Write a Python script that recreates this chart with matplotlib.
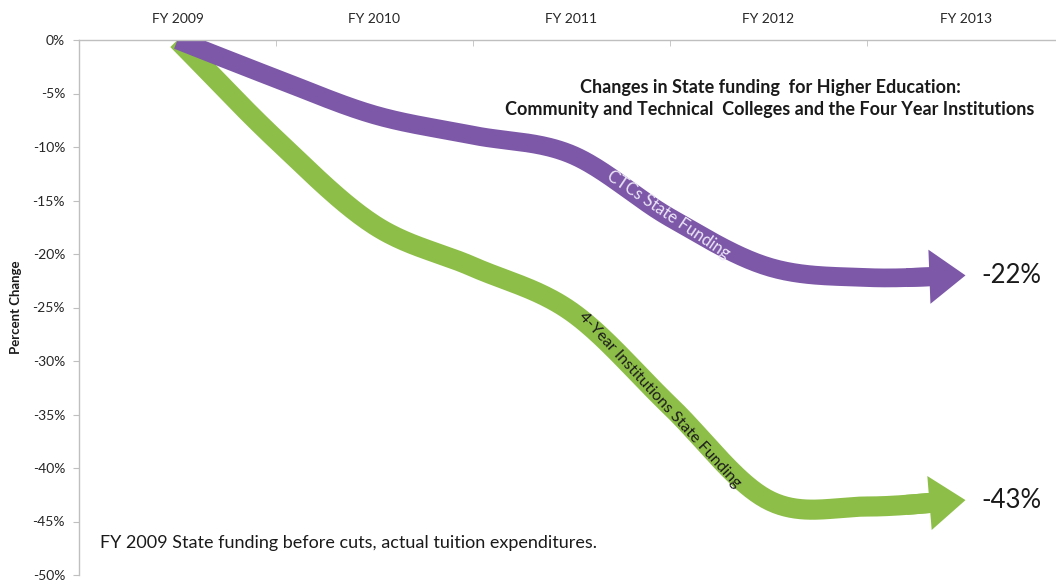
import numpy as np
import matplotlib.pyplot as plt

plt.rcParams['font.family'] = ['Lato', 'DejaVu Sans']

fiscal_years = ['FY 2009', 'FY 2010', 'FY 2011', 'FY 2012', 'FY 2013']
# half-year steps along the category axis (0 = FY 2009)
steps = [0, 0.5, 1, 1.5, 2, 2.5, 3, 3.5, 4]
ctc_change = [0, -3.6, -7.0, -8.9, -10.7, -16.6, -21.2, -22.2, -22.0]
four_year_change = [0, -9.3, -17.3, -21.2, -25.4, -34.2, -43.0, -43.6, -43.0]
y_ticks = list(range(0, -55, -5))

purple = '#7d58a8'
green = '#8dbe48'
axis_gray = '#bfbfbf'


def smooth(xs, ys, n=40):
    # catmull-rom curve through the points, like a smoothed line chart
    pts = np.column_stack([xs, ys]).astype(float)
    pad = np.vstack([2 * pts[0] - pts[1], pts, 2 * pts[-1] - pts[-2]])
    t = np.linspace(0, 1, n, endpoint=False)[:, None]
    out = []
    for i in range(1, len(pad) - 2):
        p0, p1, p2, p3 = pad[i - 1:i + 3]
        out.append(0.5 * (2 * p1 + (p2 - p0) * t
                          + (2 * p0 - 5 * p1 + 4 * p2 - p3) * t ** 2
                          + (3 * p1 - p0 - 3 * p2 + p3) * t ** 3))
    out.append(pts[-1:])
    return np.vstack(out)


fig = plt.figure(figsize=(10.56, 5.83), dpi=100)
ax = fig.add_axes([79 / 1056, 8 / 583, 985 / 1056, 535 / 583])


def draw_arrow(values, color, lw):
    curve = smooth(steps, values)
    x_end, y_end = steps[-1], values[-1]
    shaft = curve[curve[:, 0] <= x_end - 0.15]
    ax.plot(shaft[:, 0], shaft[:, 1], color=color, lw=lw,
            solid_capstyle='butt', solid_joinstyle='round')
    back = curve[curve[:, 0] <= x_end - 0.3][-1]
    ax.annotate('', xy=(x_end, y_end), xytext=(back[0], back[1]),
                arrowprops=dict(arrowstyle='simple,head_length=1.3,head_width=1.95,tail_width=%.2f' % (lw / 20),
                                color=color, lw=0, shrinkA=0, shrinkB=0,
                                mutation_scale=20),
                annotation_clip=False)
    ax.text(x_end + 0.08, y_end, '%d%%' % round(y_end), fontsize=18.5,
            va='center', ha='left', color='#1a1a1a', clip_on=False)


draw_arrow(four_year_change, green, 14.5)
draw_arrow(ctc_change, purple, 13.5)

ax.text(2.49, -16.3, 'CTCs State Funding', rotation=-34, rotation_mode='anchor',
        ha='center', va='center', fontsize=12, color='#ece6f7')
ax.text(2.45, -33.6, '4-Year Institutions State Funding', rotation=-47.5,
        rotation_mode='anchor', ha='center', va='center', fontsize=11.5,
        color='#1c1c1c')

ax.set_xlim(-0.5, 4.5)
ax.set_ylim(-50, 0)

ax.xaxis.tick_top()
ax.set_xticks(range(len(fiscal_years)))
ax.set_xticklabels(fiscal_years, fontsize=10, color='#262626')
ax.set_xticks([0.5, 1.5, 2.5, 3.5], minor=True)
ax.tick_params(axis='x', which='major', length=0, pad=11)
ax.tick_params(axis='x', which='minor', direction='in', length=4,
               color=axis_gray, top=True, bottom=False)

ax.set_yticks(y_ticks)
ax.set_yticklabels(['%d%%' % v for v in y_ticks], fontsize=10, color='#262626')
ax.tick_params(axis='y', length=4, color=axis_gray, pad=6)
ax.set_ylabel('Percent Change', fontsize=9.5, fontweight='bold', color='#1a1a1a')
ax.yaxis.set_label_coords(-0.058, 0.5)

for side in ['right', 'bottom']:
    ax.spines[side].set_visible(False)
for side in ['left', 'top']:
    ax.spines[side].set_color(axis_gray)
    ax.spines[side].set_linewidth(1)

fig.text(770 / 1056, 1 - 87 / 583, 'Changes in State funding  for Higher Education:',
         ha='center', va='center', fontsize=13, fontweight='bold', color='#1a1a1a')
fig.text(770 / 1056, 1 - 110 / 583,
         'Community and Technical  Colleges and the Four Year Institutions',
         ha='center', va='center', fontsize=13, fontweight='bold', color='#1a1a1a')
fig.text(100 / 1056, 1 - 543 / 583,
         'FY 2009 State funding before cuts, actual tuition expenditures.',
         ha='left', va='center', fontsize=13, color='#1a1a1a')

fig.savefig('out.png', dpi=100)
